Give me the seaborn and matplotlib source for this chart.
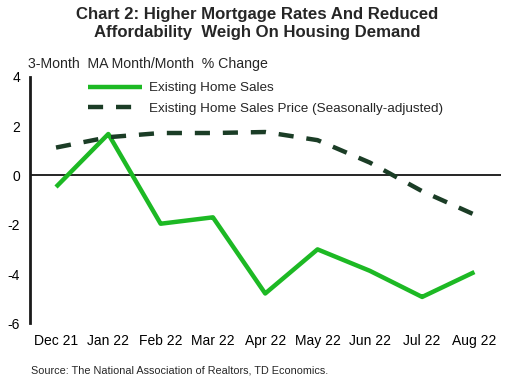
import matplotlib

matplotlib.use("Agg")
import matplotlib.pyplot as plt
import pandas as pd
import seaborn as sns

months = ["Dec 21", "Jan 22", "Feb 22", "Mar 22", "Apr 22", "May 22", "Jun 22", "Jul 22", "Aug 22"]
home_sales = [-0.47, 1.68, -1.96, -1.70, -4.79, -3.00, -3.87, -4.93, -3.92]
home_price = [1.13, 1.55, 1.72, 1.72, 1.76, 1.43, 0.52, -0.64, -1.59]

SALES_COLOR = "#1DB924"
PRICE_COLOR = "#1B3D26"

df = pd.DataFrame({
    "month": months * 2,
    "value": home_sales + home_price,
    "series": ["Existing Home Sales"] * len(months)
    + ["Existing Home Sales Price (Seasonally-adjusted)"] * len(months),
})

sns.set_style("white")
plt.rcParams["font.family"] = ["Liberation Sans", "DejaVu Sans"]
plt.rcParams["axes.unicode_minus"] = False

fig, ax = plt.subplots(figsize=(5.15, 3.84), dpi=100)
fig.subplots_adjust(left=0.058, right=0.972, top=0.80, bottom=0.158)

sns.lineplot(
    data=df, x="month", y="value", hue="series", style="series",
    palette=[SALES_COLOR, PRICE_COLOR],
    dashes=[(1, 0), (3.4, 2.9)],
    linewidth=3.2, sort=False, ax=ax,
)

ax.axhline(0, color="black", linewidth=1.2, zorder=1)
ax.set_xlim(-0.5, len(months) - 0.5)
ax.set_ylim(-6, 4)
ax.set_yticks([-6, -4, -2, 0, 2, 4])
ax.set_xlabel("")
ax.set_ylabel("")
ax.tick_params(axis="both", length=0, labelsize=10, colors="black")
ax.tick_params(axis="y", pad=7)
ax.tick_params(axis="x", pad=8)

for side in ["top", "right", "bottom"]:
    ax.spines[side].set_visible(False)
ax.spines["left"].set_color("#1a1a1a")
ax.spines["left"].set_linewidth(2)

leg = ax.legend(
    loc="upper left", bbox_to_anchor=(0.098, 1.028), frameon=False,
    fontsize=9.7, handlelength=4.0, handletextpad=0.55, labelspacing=0.6,
)
for line in leg.get_lines():
    line.set_linewidth(3.2)

fig.suptitle(
    "Chart 2: Higher Mortgage Rates And Reduced\nAffordability  Weigh On Housing Demand",
    fontsize=12.1, fontweight="bold", y=0.982, linespacing=1.25,
)
fig.text(0.055, 0.822, "3-Month  MA Month/Month  % Change", fontsize=10.2)
fig.text(0.06, 0.027, "Source: The National Association of Realtors, TD Economics.", fontsize=7.8)

fig.savefig("out.png", dpi=100)
plt.close(fig)
